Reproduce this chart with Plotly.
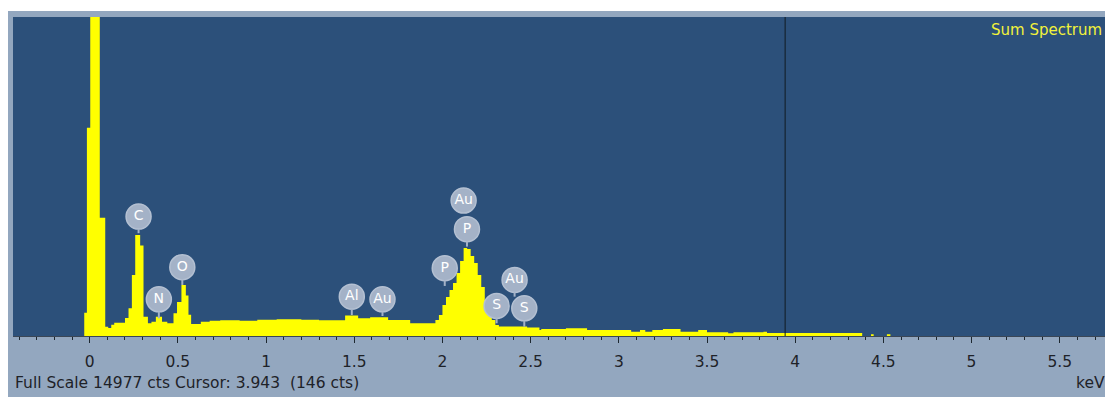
import plotly.graph_objects as go

# ---- spectrum: bin left edges (keV) and counts ----
energy_keV = [
    -0.031, -0.016, 0.003, 0.057, 0.088, 0.105, 0.122, 0.139, 0.20,
    0.22, 0.239, 0.258, 0.286, 0.305, 0.33, 0.35,
    0.375, 0.41, 0.44,
    0.475, 0.495, 0.52, 0.545, 0.56, 0.575,
    0.63, 0.68, 0.74, 0.85, 0.95, 1.06, 1.2, 1.3,
    1.448, 1.522, 1.59, 1.692, 1.817,
    1.96, 1.98, 2.00, 2.02, 2.04, 2.06, 2.08, 2.10, 2.12, 2.14, 2.16, 2.18,
    2.20, 2.22, 2.24, 2.26, 2.28, 2.30, 2.32, 2.48, 2.55, 2.56,
    2.70, 2.82, 3.07, 3.12, 3.15, 3.19, 3.25, 3.35, 3.45, 3.50,
    3.62, 3.65, 3.82, 3.84, 4.38, 4.43, 4.445, 4.52, 4.54, 4.60,
]
counts = [
    1095, 9776, 30000, 5546, 437, 376, 530, 625, 846,
    1302, 2867, 4747, 4250, 907, 597, 672,
    900, 672, 597,
    1067, 1600, 2397, 1900, 1000, 560,
    672, 720, 740, 720, 760, 785, 760, 740,
    960, 830, 880, 750, 600,
    752, 987, 1457, 1833, 2162, 2491, 2961, 3525, 4136, 4090, 3760, 3431,
    2867, 2303, 1692, 1128, 752, 517, 446, 400, 282, 329,
    362, 282, 202, 282, 202, 282, 329, 202, 282, 172,
    125, 172, 200, 135, 0, 85, 0, 85, 0, 0,
]

# ---- element labels ----
label_text = ["C", "N", "O", "Al", "Au", "P", "Au", "P", "S", "Au", "S"]
label_keV = [0.277, 0.392, 0.525, 1.486, 1.660, 2.013, 2.120, 2.139, 2.307, 2.409, 2.464]
label_counts = [5607, 1725, 3229, 1847, 1725, 3182, 6359, 5015, 1410, 2632, 1302]
stem_bottom_counts = [4827, 832, 2397, 987, 940, 2350, 6359, 4197, 597, 1847, 437]

major_ticks = [0, 0.5, 1, 1.5, 2, 2.5, 3, 3.5, 4, 4.5, 5, 5.5]
major_labels = ["0", "0.5", "1", "1.5", "2", "2.5", "3", "3.5", "4", "4.5", "5", "5.5"]

full_scale = 14977
cursor_keV = 3.943
cursor_counts = 146
x_range = [-0.435, 5.768]

PLOT_BG = "#2c507a"
FRAME = "#93a7bf"
LABEL_FILL = "#a4b2c7"
TEXT = "#1e2228"
FONT = "DejaVu Sans"

fig = go.Figure()

fig.add_trace(go.Scatter(
    x=energy_keV, y=counts, mode="lines", line=dict(shape="hv", width=0, color="#ffff00"),
    fill="tozeroy", fillcolor="#ffff00", hoverinfo="skip", showlegend=False,
))

r_counts = 580
shapes = []
for e, yl, yb in zip(label_keV, label_counts, stem_bottom_counts):
    if yb < yl - r_counts:
        shapes.append(dict(type="line", xref="x", yref="y", x0=e, x1=e, y0=yl - r_counts, y1=yb,
                           line=dict(color=LABEL_FILL, width=2), layer="above"))

fig.add_trace(go.Scatter(
    x=label_keV, y=label_counts, mode="markers+text", text=label_text,
    textposition="middle center",
    textfont=dict(color="white", size=14, family=FONT),
    marker=dict(size=25, color=LABEL_FILL, line=dict(width=1.5, color="#b4c0d2")),
    hoverinfo="skip", showlegend=False, cliponaxis=False,
))

# cursor line
shapes.append(dict(type="line", xref="x", yref="paper", x0=cursor_keV, x1=cursor_keV, y0=0, y1=1,
                   line=dict(color="#111a22", width=1), layer="above"))
# white strip above the frame
shapes.append(dict(type="rect", xref="paper", yref="paper", x0=-0.02, x1=1.02, y0=1.0188, y1=1.06,
                   fillcolor="white", line=dict(width=0), layer="below"))

annotations = [
    dict(xref="paper", yref="paper", x=0, y=-0.147, xanchor="left", yanchor="middle",
         text=f"Full Scale {full_scale} cts Cursor: {cursor_keV:.3f}  ({cursor_counts} cts)",
         showarrow=False, font=dict(family=FONT, size=15.5, color=TEXT)),
    dict(xref="paper", yref="paper", x=1, y=-0.147, xanchor="right", yanchor="middle",
         text="keV", showarrow=False, font=dict(family=FONT, size=15.5, color=TEXT)),
    dict(xref="paper", yref="paper", x=0.997, y=0.96, xanchor="right", yanchor="middle",
         text="Sum Spectrum", showarrow=False, font=dict(family=FONT, size=15, color="#f2f23a")),
]

fig.update_layout(
    width=1105, height=389, autosize=False,
    margin=dict(l=5, r=6, t=9, b=61),
    paper_bgcolor=FRAME, plot_bgcolor=PLOT_BG,
    shapes=shapes, annotations=annotations,
    xaxis=dict(
        range=x_range, showgrid=False, zeroline=False,
        tickmode="array", tickvals=major_ticks, ticktext=major_labels,
        ticks="outside", ticklen=6, tickwidth=1, tickcolor="#1e2830",
        minor=dict(dtick=0.1, tick0=0, ticks="outside", ticklen=3, tickcolor="#1e2830", showgrid=False),
        showline=True, linecolor="#3a4656", linewidth=1,
        tickfont=dict(family=FONT, size=15.5, color=TEXT),
        ticklabelstandoff=5, fixedrange=True,
    ),
    yaxis=dict(range=[0, full_scale], visible=False, showgrid=False, zeroline=False, fixedrange=True),
)

fig.write_html("out.html")
